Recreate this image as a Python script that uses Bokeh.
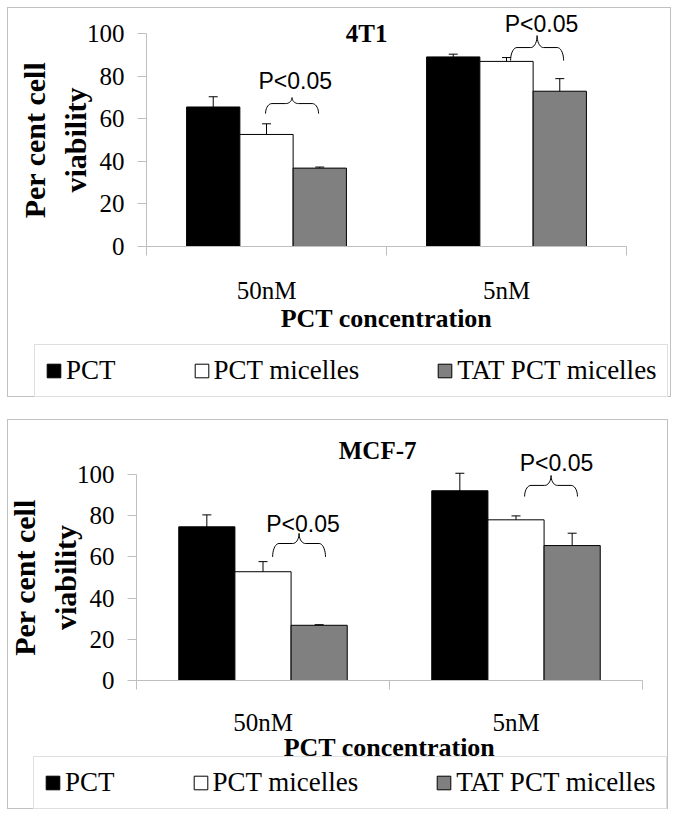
import numpy as np
from bokeh.plotting import figure
from bokeh.models import (ColumnDataSource, FixedTicker, Whisker, TeeHead,
                          Legend, LegendItem, Range1d)
from bokeh.layouts import column
from bokeh.embed import file_html
from bokeh.resources import INLINE
from bokeh.core.properties import value

# ---------------- data ----------------
categories = ["50nM", "5nM"]
series_names = ["PCT", "PCT micelles", "TAT PCT micelles"]
series_colors = ["#000000", "#ffffff", "#808080"]
y_ticks = [0, 20, 40, 60, 80, 100]
x_title = "PCT concentration"
y_title = "Per cent cell\nviability"
sig_label = "P<0.05"

# 4T1
t1_title = "4T1"
t1_pct = [65.5, 89.0]
t1_pct_err = [4.8, 1.3]
t1_mic = [52.6, 86.9]
t1_mic_err = [5.0, 1.8]
t1_tat = [36.8, 72.9]
t1_tat_err = [0.5, 5.9]
t1_sig_x = [0.62, 1.646]
t1_sig_y = [77.9, 104.5]
t1_brace_x0 = [0.496, 1.517]
t1_brace_x1 = [0.717, 1.738]
t1_brace_lo = [62.4, 87.3]
t1_brace_mid = [67.1, 93.4]
t1_brace_hi = [69.9, 99.0]
t1_title_x = 0.917
t1_title_y = 99.8

# MCF-7
m7_title = "MCF-7"
m7_pct = [74.6, 92.1]
m7_pct_err = [5.8, 8.5]
m7_mic = [52.8, 78.0]
m7_mic_err = [4.9, 1.9]
m7_tat = [26.8, 65.5]
m7_tat_err = [0.3, 6.0]
m7_sig_x = [0.658, 1.660]
m7_sig_y = [76.2, 105.8]
m7_brace_x0 = [0.538, 1.534]
m7_brace_x1 = [0.747, 1.743]
m7_brace_lo = [60.0, 89.3]
m7_brace_mid = [66.5, 94.7]
m7_brace_hi = [71.4, 99.5]
m7_title_x = 0.953
m7_title_y = 111.7

SERIF = "Liberation Serif"
SANS = "Liberation Sans"
AXIS_GRAY = "#bfbfbf"
BOX_GRAY = "#c0c0c0"


def brace_path(x0, x1, ylo, ymid, yhi, n=10):
    xm = (x0 + x1) / 2.0
    r = (x1 - x0) * 0.12
    t = np.linspace(0, np.pi / 2, n)
    lx1 = x0 + r - r * np.cos(t)
    ly1 = ylo + (ymid - ylo) * np.sin(t)
    lx2 = xm - r + r * np.sin(t)
    ly2 = ymid + (yhi - ymid) * (1 - np.cos(t))
    lx = np.concatenate([lx1, lx2])
    ly = np.concatenate([ly1, ly2])
    rx = (2 * xm - lx)[::-1]
    ry = ly[::-1]
    return list(np.concatenate([lx, rx])), list(np.concatenate([ly, ry]))


def make_chart(title, title_x, title_y, vals, errs, sig_x, sig_y,
               bx0, bx1, blo, bmid, bhi, geom):
    # geometry: canvas origin/size and pixel positions of the axis span (page px)
    ox, oy, W, H = geom["origin_x"], geom["origin_y"], geom["width"], geom["height"]
    ax0, ax1 = geom["axis_x0"], geom["axis_x1"]
    py0, py100 = geom["y0"], geom["y100"]
    ncat = len(categories)
    pxx = (ax1 - ax0) / ncat
    pxy = (py0 - py100) / 100.0
    x_start = -(ax0 - ox) / pxx
    x_end = x_start + W / pxx
    y_end = (py0 - oy) / pxy
    y_start = y_end - H / pxy

    p = figure(width=W, height=H, output_backend="svg",
               toolbar_location=None, title=None,
               x_range=Range1d(x_start, x_end), y_range=Range1d(y_start, y_end),
               min_border=0)
    p.outline_line_color = None
    p.xgrid.visible = False
    p.ygrid.visible = False
    p.background_fill_color = "white"
    p.border_fill_color = "white"
    p.styles = {"border": "1px solid " + BOX_GRAY}

    bar_w = 0.222
    offsets = [-bar_w, 0.0, bar_w]
    renderers = []
    for k, name in enumerate(series_names):
        xs = [i + 0.5 + offsets[k] for i in range(ncat)]
        v = vals[k]
        e = errs[k]
        src = ColumnDataSource(dict(x=xs, top=v,
                                    upper=[a + b for a, b in zip(v, e)],
                                    lower=[a - b for a, b in zip(v, e)]))
        r = p.vbar(x="x", top="top", width=bar_w, bottom=0, source=src,
                   fill_color=series_colors[k], line_color="black", line_width=1)
        renderers.append(r)
        w = Whisker(base="x", upper="upper", lower="lower", source=src,
                    line_color="black", line_width=1,
                    upper_head=TeeHead(size=9, line_color="black", line_width=1),
                    lower_head=TeeHead(size=9, line_color="black", line_width=1))
        p.add_layout(w)

    bxs, bys = [], []
    for a, b, lo, mid, hi in zip(bx0, bx1, blo, bmid, bhi):
        xx, yy = brace_path(a, b, lo, mid, hi)
        bxs.append(xx)
        bys.append(yy)
    p.multi_line(xs=bxs, ys=bys, line_color="black", line_width=1)

    p.text(x=sig_x, y=sig_y, text=[sig_label] * len(sig_x),
           text_font=value(SANS), text_font_size="23px",
           text_align="center", text_baseline="middle", text_color="black")
    p.text(x=[title_x], y=[title_y], text=[title],
           text_font=value(SERIF), text_font_size="25px", text_font_style="bold",
           text_align="center", text_baseline="middle", text_color="black")

    # y axis, pinned at x = 0
    ya = p.yaxis[0]
    ya.fixed_location = 0
    ya.ticker = FixedTicker(ticks=y_ticks)
    ya.bounds = (0, 100)
    ya.axis_line_color = AXIS_GRAY
    ya.major_tick_line_color = AXIS_GRAY
    ya.major_tick_in = 0
    ya.major_tick_out = 9
    ya.minor_tick_out = 0
    ya.minor_tick_in = 0
    ya.major_label_standoff = 13
    ya.major_label_text_font = SERIF
    ya.major_label_text_font_size = "25px"
    ya.major_label_text_color = "black"
    ya.axis_label = y_title
    ya.axis_label_text_font = SERIF
    ya.axis_label_text_font_size = "30px"
    ya.axis_label_text_font_style = "bold"
    ya.axis_label_text_color = "black"
    ya.axis_label_text_line_height = 1.25
    ya.axis_label_standoff = geom["ylab_standoff"]

    # x axis, pinned at y = 0
    xa = p.xaxis[0]
    xa.fixed_location = 0
    centers = [i + 0.5 for i in range(ncat)]
    bounds_ticks = [float(i) for i in range(ncat + 1)]
    xa.ticker = FixedTicker(ticks=centers, minor_ticks=bounds_ticks)
    xa.major_label_overrides = {c: lab for c, lab in zip(centers, categories)}
    xa.bounds = (0, ncat)
    xa.axis_line_color = AXIS_GRAY
    xa.major_tick_line_color = None
    xa.major_tick_in = 0
    xa.major_tick_out = 0
    xa.minor_tick_line_color = AXIS_GRAY
    xa.minor_tick_in = 0
    xa.minor_tick_out = 9
    xa.major_label_standoff = geom["xlab_standoff"]
    xa.major_label_text_font = SERIF
    xa.major_label_text_font_size = "25px"
    xa.major_label_text_color = "black"
    xa.axis_label = x_title
    xa.axis_label_text_font = SERIF
    xa.axis_label_text_font_size = "26px"
    xa.axis_label_text_font_style = "bold"
    xa.axis_label_text_color = "black"
    xa.axis_label_standoff = geom["xtitle_standoff"]

    items = [LegendItem(label=n, renderers=[r]) for n, r in zip(series_names, renderers)]
    legend = Legend(items=items, location=geom["legend_loc"], orientation="horizontal",
                    spacing=geom["legend_spacing"], padding=10, margin=0,
                    label_standoff=4, glyph_width=17, glyph_height=17,
                    label_text_font=SERIF, label_text_font_size="27px",
                    label_text_color="black",
                    border_line_color=BOX_GRAY, border_line_width=1,
                    background_fill_color="white", background_fill_alpha=1.0)
    p.add_layout(legend)
    return p


geom1 = dict(origin_x=8, origin_y=8, width=664, height=390,
             axis_x0=146, axis_x1=626, y0=246, y100=33,
             ylab_standoff=-8, xlab_standoff=21, xtitle_standoff=-3,
             legend_loc=(26, 1), legend_spacing=77)
geom2 = dict(origin_x=8, origin_y=422, width=661, height=390,
             axis_x0=136, axis_x1=642, y0=682, y100=476,
             ylab_standoff=-8, xlab_standoff=19, xtitle_standoff=-6,
             legend_loc=(25, 1), legend_spacing=77)

p1 = make_chart(t1_title, t1_title_x, t1_title_y,
                [t1_pct, t1_mic, t1_tat], [t1_pct_err, t1_mic_err, t1_tat_err],
                t1_sig_x, t1_sig_y,
                t1_brace_x0, t1_brace_x1, t1_brace_lo, t1_brace_mid, t1_brace_hi,
                geom1)
p2 = make_chart(m7_title, m7_title_x, m7_title_y,
                [m7_pct, m7_mic, m7_tat], [m7_pct_err, m7_mic_err, m7_tat_err],
                m7_sig_x, m7_sig_y,
                m7_brace_x0, m7_brace_x1, m7_brace_lo, m7_brace_mid, m7_brace_hi,
                geom2)

layout = column(p1, p2, spacing=22, margin=(7, 0, 0, 7))
open("out.html", "w").write(file_html(layout, INLINE))
